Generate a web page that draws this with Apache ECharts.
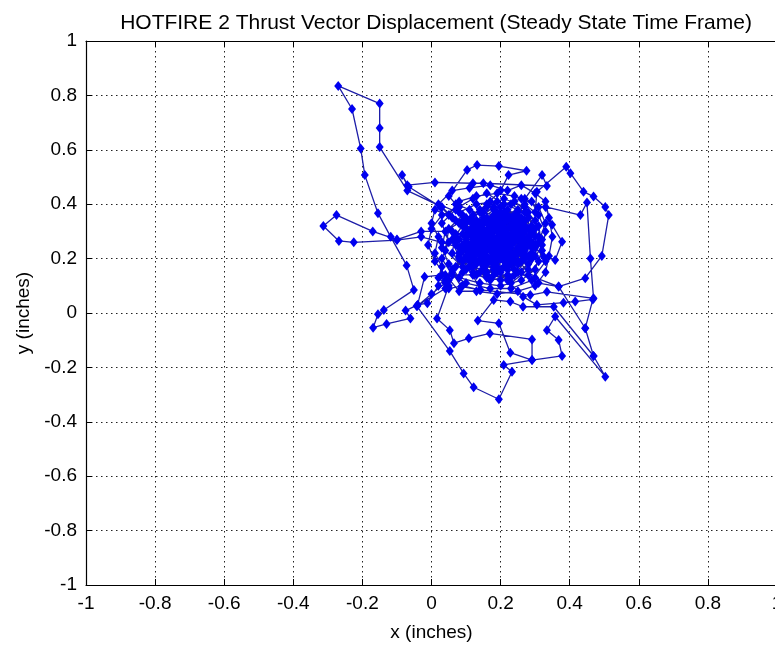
<!DOCTYPE html>
<html>
<head>
<meta charset="utf-8">
<script src="https://cdn.jsdelivr.net/npm/echarts@6/dist/echarts.min.js"></script>
<style>
html,body{margin:0;padding:0;background:#ffffff;overflow:hidden;}
#chart{width:775px;height:646px;}
</style>
</head>
<body>
<div id="chart"></div>
<script>
const chartTitle = 'HOTFIRE 2 Thrust Vector Displacement (Steady State Time Frame)';
const xAxisTitle = 'x (inches)';
const yAxisTitle = 'y (inches)';
const axisRange = [-1, 1];
const tickStep = 0.2;

// thrust vector displacement path, [x, y] in inches, in time order
const clusterA = [[0.17,0.27],[0.14,0.24],[0.19,0.30],[0.22,0.26],[0.18,0.22],[0.13,0.28],[0.18,0.33],[0.24,0.31],[0.21,0.23],[0.15,0.20],[0.10,0.26],[0.15,0.31],[0.22,0.34],[0.26,0.28],[0.21,0.19],[0.12,0.22],[0.09,0.29],[0.15,0.35],[0.21,0.37],[0.27,0.32],[0.25,0.22],[0.18,0.17],[0.11,0.19],[0.07,0.25],[0.12,0.32],[0.18,0.38],[0.24,0.36],[0.28,0.27],[0.23,0.18],[0.16,0.15],[0.12,0.26],[0.17,0.29],[0.20,0.27],[0.16,0.23],[0.19,0.20],[0.23,0.24],[0.20,0.29],[0.14,0.27],[0.11,0.23],[0.16,0.19]];
const excursionTopLeft = [[0.08,0.33],[0.03,0.39],[-0.07,0.45],[-0.15,0.61],[-0.15,0.68],[-0.15,0.77],[-0.27,0.835],[-0.23,0.75],[-0.205,0.605],[-0.193,0.507],[-0.155,0.367],[-0.118,0.28],[-0.072,0.175],[-0.051,0.085],[-0.138,0.011],[-0.155,-0.005],[-0.169,-0.054],[-0.13,-0.04],[-0.061,-0.02],[-0.075,0.009],[-0.04,0.03],[-0.012,0.036],[0.02,0.10],[0.06,0.16],[0.10,0.21]];
const clusterB = [[0.15,0.26],[0.20,0.32],[0.25,0.29],[0.22,0.21],[0.17,0.25],[0.13,0.31],[0.19,0.35],[0.26,0.33],[0.29,0.26],[0.26,0.19],[0.19,0.16],[0.13,0.18],[0.09,0.23],[0.11,0.30],[0.17,0.34],[0.23,0.32],[0.20,0.25],[0.15,0.22],[0.18,0.28],[0.24,0.27],[0.27,0.23],[0.23,0.20],[0.17,0.20],[0.12,0.24],[0.14,0.29],[0.21,0.30],[0.25,0.35],[0.20,0.39],[0.14,0.37],[0.09,0.32],[0.06,0.27],[0.08,0.20],[0.13,0.14],[0.20,0.12],[0.26,0.15],[0.30,0.21],[0.31,0.28],[0.28,0.35],[0.22,0.28],[0.16,0.26]];
const excursionLeftLoop = [[0.06,0.30],[-0.03,0.30],[-0.10,0.27],[-0.17,0.30],[-0.275,0.36],[-0.313,0.32],[-0.268,0.265],[-0.225,0.26],[-0.10,0.268],[-0.03,0.28],[0.03,0.26],[0.08,0.24]];
const clusterC = [[0.14,0.27],[0.19,0.23],[0.24,0.26],[0.21,0.31],[0.16,0.33],[0.12,0.29],[0.15,0.24],[0.20,0.21],[0.26,0.25],[0.28,0.31],[0.24,0.34],[0.18,0.31],[0.13,0.26],[0.10,0.20],[0.15,0.17],[0.22,0.17],[0.27,0.21],[0.25,0.27],[0.19,0.27],[0.16,0.30],[0.11,0.34],[0.16,0.39],[0.23,0.40],[0.27,0.37],[0.29,0.30],[0.25,0.23],[0.19,0.19],[0.14,0.21],[0.08,0.27],[0.10,0.33],[0.18,0.35],[0.22,0.29],[0.18,0.24],[0.12,0.21],[0.07,0.17],[0.04,0.12]];
const excursionBottom = [[0.04,0.09],[-0.043,0.026],[0.053,-0.14],[0.093,-0.222],[0.122,-0.273],[0.195,-0.317],[0.233,-0.216],[0.209,-0.191],[0.291,-0.173],[0.378,-0.158],[0.368,-0.099],[0.334,-0.063],[0.358,-0.013],[0.503,-0.234],[0.469,-0.158],[0.445,-0.056],[0.467,0.05],[0.416,0.042],[0.382,0.038],[0.305,0.03],[0.265,0.06],[0.22,0.12],[0.19,0.17]];
const clusterD = [[0.17,0.19],[0.12,0.25],[0.17,0.31],[0.23,0.29],[0.27,0.24],[0.22,0.19],[0.16,0.21],[0.13,0.27],[0.19,0.34],[0.25,0.32],[0.22,0.25],[0.17,0.26],[0.14,0.32],[0.09,0.36],[0.05,0.31],[0.04,0.23],[0.09,0.17],[0.16,0.14],[0.23,0.13],[0.28,0.18],[0.30,0.25],[0.27,0.30],[0.20,0.33],[0.15,0.28],[0.18,0.21],[0.24,0.22],[0.21,0.28],[0.16,0.35],[0.11,0.38],[0.07,0.40]];
const excursionTop = [[0.05,0.43],[0.103,0.526],[0.132,0.544],[0.195,0.54],[0.275,0.523],[0.223,0.507],[0.20,0.45],[0.16,0.40],[0.19,0.36]];
const clusterE = [[0.24,0.33],[0.28,0.28],[0.24,0.21],[0.18,0.18],[0.12,0.20],[0.10,0.27],[0.14,0.33],[0.20,0.31],[0.23,0.25],[0.19,0.22],[0.14,0.25],[0.17,0.30],[0.22,0.36],[0.27,0.40],[0.30,0.37]];
const excursionRight = [[0.305,0.446],[0.39,0.538],[0.402,0.514],[0.44,0.446],[0.469,0.428],[0.503,0.39],[0.513,0.36],[0.493,0.21],[0.445,0.128],[0.368,0.097],[0.31,0.11],[0.25,0.15],[0.22,0.18]];
const clusterF = [[0.18,0.24],[0.13,0.30],[0.18,0.36],[0.24,0.30],[0.21,0.22],[0.15,0.19],[0.11,0.25],[0.16,0.28],[0.21,0.26],[0.26,0.29],[0.23,0.35],[0.17,0.32],[0.12,0.27],[0.08,0.22],[0.12,0.15],[0.19,0.15],[0.24,0.19],[0.20,0.24],[0.15,0.23],[0.11,0.29],[0.06,0.35],[0.01,0.38],[0.0,0.33],[0.02,0.28],[0.01,0.22],[0.03,0.17],[0.02,0.13],[0.05,0.09],[0.09,0.10],[0.14,0.085],[0.12,0.14]];
const excursionLowerLeft = [[0.03,0.14],[-0.02,0.133],[-0.041,0.026],[0.0,0.07],[0.04,0.11]];
const clusterG = [[0.10,0.24],[0.15,0.29],[0.21,0.33],[0.26,0.31],[0.28,0.25],[0.23,0.21],[0.17,0.23],[0.13,0.19],[0.18,0.16],[0.24,0.16],[0.29,0.20],[0.32,0.27],[0.30,0.34],[0.25,0.38],[0.19,0.41],[0.13,0.40],[0.08,0.37],[0.10,0.31],[0.16,0.27],[0.22,0.24]];
const excursionUpper = [[0.27,0.42],[0.32,0.507],[0.334,0.467],[0.15,0.477],[0.12,0.477],[0.01,0.48],[-0.07,0.47],[-0.085,0.507],[-0.066,0.464],[0.026,0.39],[0.07,0.34]];
const clusterH = [[0.12,0.31],[0.17,0.27],[0.22,0.31],[0.26,0.26],[0.22,0.20],[0.16,0.18],[0.11,0.22],[0.14,0.28],[0.20,0.28],[0.25,0.24],[0.21,0.17],[0.14,0.15],[0.09,0.19],[0.07,0.26],[0.12,0.33],[0.19,0.37],[0.25,0.34],[0.29,0.29],[0.27,0.20],[0.20,0.20],[0.15,0.25],[0.19,0.31],[0.24,0.28],[0.30,0.24],[0.325,0.207]];
const excursionRightMid = [[0.358,0.195],[0.378,0.262],[0.349,0.324],[0.33,0.39],[0.431,0.36],[0.45,0.406],[0.46,0.20],[0.469,0.054],[0.334,0.078],[0.286,0.066],[0.142,0.085],[0.086,0.097],[0.06,0.15]];
const clusterI = [[0.11,0.22],[0.16,0.26],[0.21,0.23],[0.25,0.30],[0.20,0.35],[0.14,0.33],[0.10,0.28],[0.13,0.22],[0.18,0.19],[0.23,0.22],[0.27,0.27],[0.23,0.32],[0.17,0.29],[0.13,0.24],[0.17,0.20],[0.22,0.16],[0.28,0.14],[0.31,0.19],[0.29,0.24],[0.20,0.26],[0.15,0.21],[0.09,0.15],[0.05,0.12]];
const excursionBottom2 = [[0.05,0.10],[0.016,-0.02],[0.053,-0.063],[0.065,-0.111],[0.108,-0.093],[0.169,-0.075],[0.291,-0.097],[0.291,-0.173],[0.228,-0.146],[0.195,-0.038],[0.134,-0.028],[0.18,0.048],[0.228,0.042],[0.265,0.023],[0.354,0.023],[0.469,-0.158],[0.445,-0.056],[0.368,0.097],[0.30,0.13],[0.25,0.19]];
const clusterK = [[0.05,0.36],[0.08,0.41],[0.13,0.43],[0.19,0.44],[0.24,0.43],[0.29,0.41],[0.31,0.36],[0.33,0.30],[0.32,0.23],[0.30,0.16],[0.26,0.12],[0.20,0.10],[0.14,0.11],[0.08,0.13],[0.05,0.18],[0.03,0.24],[0.04,0.30],[0.09,0.34],[0.14,0.38],[0.21,0.42],[0.27,0.39],[0.30,0.31],[0.29,0.22],[0.24,0.14],[0.17,0.12],[0.10,0.16],[0.06,0.22],[0.07,0.29],[0.12,0.36],[0.17,0.41]];
const clusterL = [[0.22,0.38],[0.26,0.35],[0.29,0.32],[0.27,0.25],[0.25,0.18],[0.20,0.15],[0.15,0.16],[0.11,0.17],[0.08,0.21],[0.07,0.28],[0.10,0.35],[0.15,0.37],[0.21,0.35],[0.24,0.32],[0.26,0.22],[0.22,0.14],[0.16,0.13],[0.12,0.17],[0.09,0.25],[0.13,0.34],[0.18,0.39],[0.24,0.41],[0.28,0.37],[0.31,0.32],[0.32,0.25],[0.28,0.16],[0.23,0.11],[0.18,0.14],[0.14,0.19],[0.12,0.28],[0.16,0.34],[0.20,0.37],[0.25,0.37],[0.27,0.34],[0.30,0.28],[0.28,0.21],[0.22,0.22],[0.17,0.24],[0.13,0.29],[0.15,0.33]];
const clusterM = [[0.02,0.40],[0.06,0.45],[0.11,0.46],[0.17,0.47],[0.22,0.45],[0.26,0.47],[0.30,0.44],[0.33,0.41],[0.34,0.35],[0.35,0.28],[0.34,0.21],[0.33,0.15],[0.30,0.10],[0.25,0.08],[0.19,0.07],[0.13,0.08],[0.08,0.08],[0.04,0.14],[0.01,0.19],[-0.01,0.25],[0.0,0.31],[0.03,0.36],[0.08,0.39],[0.12,0.42],[0.16,0.44],[0.21,0.40],[0.26,0.42],[0.31,0.39],[0.33,0.33],[0.31,0.26],[0.33,0.19],[0.29,0.12],[0.23,0.09],[0.17,0.09],[0.10,0.11],[0.06,0.14],[0.03,0.20],[0.05,0.26],[0.03,0.33],[0.07,0.38]];
const clusterJ = [[0.12,0.34],[0.16,0.30],[0.19,0.25],[0.14,0.30],[0.19,0.32],[0.23,0.27],[0.18,0.23],[0.13,0.23],[0.16,0.28],[0.21,0.29],[0.18,0.26]];

const displacement = [].concat(
  clusterA, excursionTopLeft, clusterB, excursionLeftLoop, clusterC,
  excursionBottom, clusterD, excursionTop, clusterE, excursionRight,
  clusterF, excursionLowerLeft, clusterG, excursionUpper, clusterH,
  excursionRightMid, clusterI, excursionBottom2, clusterK, clusterL,
  clusterM, clusterJ
);

const FONT = '"Liberation Sans", Arial, sans-serif';
const chart = echarts.init(document.getElementById('chart'), null, {renderer: 'canvas'});

const commonAxis = {
  type: 'value',
  min: axisRange[0],
  max: axisRange[1],
  interval: tickStep,
  axisLine: {show: true, onZero: false, lineStyle: {color: '#000', width: 1.2}},
  axisTick: {show: true, inside: true, length: 6, lineStyle: {color: '#000', width: 1}},
  splitLine: {show: true, lineStyle: {color: '#222', width: 1, type: [1.5, 3.5]}},
  axisLabel: {color: '#000', fontFamily: FONT, fontSize: 19}
};

chart.setOption({
  animation: false,
  backgroundColor: '#ffffff',
  title: {
    text: chartTitle,
    left: 431,
    top: 8,
    textAlign: 'center',
    textStyle: {color: '#000', fontFamily: FONT, fontSize: 21, fontWeight: 'normal'}
  },
  grid: {left: 86, top: 41, width: 691, height: 544, containLabel: false, outerBoundsMode: 'none'},
  xAxis: [
    Object.assign({}, commonAxis, {
      position: 'bottom',
      name: xAxisTitle,
      nameLocation: 'middle',
      nameGap: 38,
      nameTextStyle: {color: '#000', fontFamily: FONT, fontSize: 19},
      axisLabel: Object.assign({}, commonAxis.axisLabel, {margin: 9})
    }),
    Object.assign({}, commonAxis, {
      position: 'top',
      axisLabel: {show: false},
      splitLine: {show: false}
    })
  ],
  yAxis: [
    Object.assign({}, commonAxis, {
      position: 'left',
      name: yAxisTitle,
      nameLocation: 'middle',
      nameGap: 52,
      nameTextStyle: {color: '#000', fontFamily: FONT, fontSize: 19},
      axisLabel: Object.assign({}, commonAxis.axisLabel, {margin: 9})
    })
  ],
  series: [{
    type: 'line',
    xAxisIndex: 0,
    yAxisIndex: 0,
    data: displacement,
    showSymbol: true,
    showAllSymbol: true,
    symbol: 'diamond',
    symbolSize: [8, 10],
    lineStyle: {color: '#1e1ea8', width: 1.3},
    itemStyle: {color: '#0000f0', borderWidth: 0},
    emphasis: {disabled: true},
    clip: true
  }]
});
</script>
</body>
</html>
